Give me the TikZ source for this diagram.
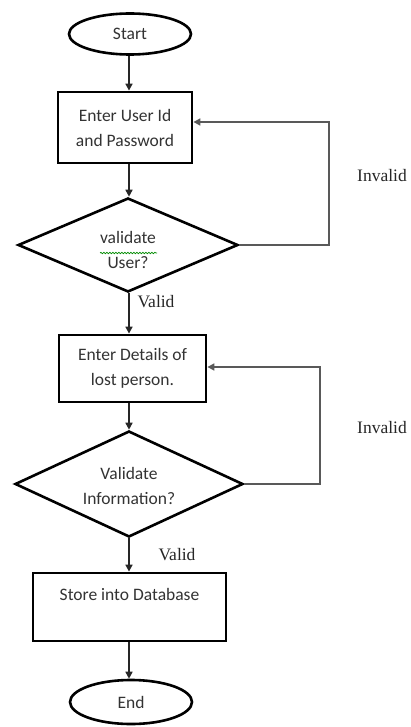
\documentclass[tikz,border=0pt]{standalone}
\usepackage{fontspec}
\setmainfont{Carlito}
\newfontfamily\lblfont{Liberation Serif}
\usetikzlibrary{shapes.geometric,arrows.meta,decorations.pathmorphing}
\begin{document}
\begin{tikzpicture}[x=1pt,y=-1pt,
  every node/.style={font=\fontsize{17.5}{25}\selectfont, text=black!80},
  term/.style={ellipse, draw=black, line width=2.6pt, minimum width=122pt, minimum height=41pt, inner sep=0pt},
  procbox/.style={rectangle, draw=black, line width=2.8pt, align=center, inner sep=0pt},
  decide/.style={diamond, draw=black, line width=2.6pt, align=center, inner sep=0pt},
  flow/.style={line width=1.6pt, draw=black!85, -{Triangle[length=7pt,width=7pt]}},
  loopline/.style={line width=1.6pt, draw=black!65, -{Triangle[length=7pt,width=7pt]}},
  lbl/.style={font=\lblfont\fontsize{17.5}{20}\selectfont, text=black!85}]
\useasboundingbox (0,0) rectangle (411,727);
\fill[white] (0,0) rectangle (411,727);

\node[term] (start) at (130,34) {Start};
\node[procbox, minimum width=134pt, minimum height=71pt] (b1) at (125,127.5) {Enter User Id\\and Password};
\node[decide, minimum width=220pt, minimum height=94pt] (d1) at (128,245) {};
\node (d1t) at (128,250) [align=center] {validate\\User?};
\node[procbox, minimum width=147pt, minimum height=67pt] (b2) at (132.5,368.5) {Enter Details of\\lost person.};
\node[decide, minimum width=228pt, minimum height=106pt] (d2) at (129,484) {};
\node (d2t) at (129,486) [align=center] {Validate\\Information?};
\node[procbox, minimum width=193pt, minimum height=68pt] (b3) at (129.5,607) {Store into Database\\~};
\node[term, minimum height=44pt] (end) at (131,702) {End};

\node[lbl] (inv1) at (382,176) {Invalid};
\node[lbl] (val1) at (156,302) {Valid};
\node[lbl] (inv2) at (382,428) {Invalid};
\node[lbl] (val2) at (177,555) {Valid};

\draw[green!55!black, line width=0.7pt, decorate, decoration={snake, amplitude=0.7pt, segment length=3pt}]
  (100,253) -- (157,253);

\coordinate (c) at (129,0);
\draw[flow] (start.south -| c) -- (b1.north -| c);
\draw[flow] (b1.south -| c) -- (d1.north -| c);
\draw[flow] (d1.south -| c) -- (b2.north -| c);
\draw[flow] (b2.south -| c) -- (d2.north -| c);
\draw[flow] (d2.south -| c) -- (b3.north -| c);
\draw[flow] (b3.south -| c) -- (end.north -| c);

\coordinate (r1) at (329,122);
\coordinate (r2) at (320,367);
\draw[loopline] (d1.east) -- (d1.east -| r1) -- (r1) -- (r1 -| b1.east);
\draw[loopline] (d2.east) -- (d2.east -| r2) -- (r2) -- (r2 -| b2.east);
\end{tikzpicture}
\end{document}
